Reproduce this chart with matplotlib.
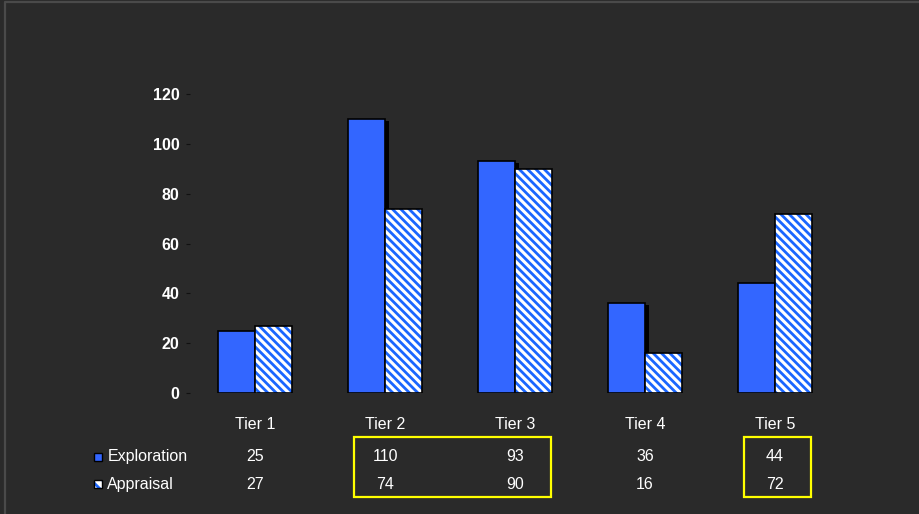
import matplotlib.pyplot as plt
import matplotlib.transforms as mtransforms
from matplotlib.patches import Rectangle
from matplotlib.lines import Line2D
import numpy as np

tiers = ['Tier 1', 'Tier 2', 'Tier 3', 'Tier 4', 'Tier 5']
exploration = [25, 110, 93, 36, 44]
appraisal = [27, 74, 90, 16, 72]
yticks = [0, 20, 40, 60, 80, 100, 120]
# tiers highlighted in the data table (first index, last index)
highlights = [(1, 2), (4, 4)]

bg = '#2a2a2a'
blue = '#3366ff'
hatch_blue = '#1a66ff'

plt.rcParams['font.family'] = ['Liberation Sans', 'DejaVu Sans']
plt.rcParams['hatch.linewidth'] = 2.0
plt.rcParams['hatch.color'] = hatch_blue

fig = plt.figure(figsize=(9.2, 5.14), dpi=100, facecolor=bg)
ax = fig.add_axes([190 / 920, 121 / 514, 650 / 920, 299 / 514])
ax.set_facecolor(bg)

# outer frame (top and left edges only)
fig.lines.append(Line2D([4.5 / 920, 4.5 / 920, 1], [0, 512.5 / 514, 512.5 / 514],
                        transform=fig.transFigure, color='#4a4a4a', linewidth=1.6))

x = np.arange(len(tiers))
w = 0.285
shadow = 4 / 130

# shadow of exploration bars
ax.bar(x - w / 2 + shadow, exploration, w, bottom=-0.8, color='black', linewidth=0, zorder=1)
ax.bar(x - w / 2, exploration, w, color=blue, edgecolor='black', linewidth=1.2, zorder=2)
ax.bar(x + w / 2, appraisal, w, color='white', edgecolor=hatch_blue, hatch='\\\\\\\\',
       linewidth=0, zorder=3)
ax.bar(x + w / 2, appraisal, w, fill=False, edgecolor='black', linewidth=1.2, zorder=4)

ax.set_xlim(-0.5, len(tiers) - 0.5)
ax.set_ylim(0, 120)
ax.set_yticks(yticks)
ax.set_xticks([])
for s in ax.spines.values():
    s.set_visible(False)
ax.tick_params(axis='y', length=3, width=0.8, color='#111111', pad=4.5,
               labelcolor='white', labelsize=11.5)
for lab in ax.get_yticklabels():
    lab.set_fontweight('bold')

# data table under the chart
fs = 11.5
trans = mtransforms.blended_transform_factory(ax.transData, ax.transAxes)
row_y = {'tier': -0.104, 'Exploration': -0.213, 'Appraisal': -0.306}
for i, t in enumerate(tiers):
    ax.text(i, row_y['tier'], t, transform=trans, ha='center', va='center',
            color='white', fontsize=fs, clip_on=False)
    ax.text(i, row_y['Exploration'], str(exploration[i]), transform=trans, ha='center',
            va='center', color='white', fontsize=fs, clip_on=False)
    ax.text(i, row_y['Appraisal'], str(appraisal[i]), transform=trans, ha='center',
            va='center', color='white', fontsize=fs, clip_on=False)

# legend keys
kw = 8 / 130
kh = 8 / 299
ax.add_patch(Rectangle((-1.208 - kw / 2, row_y['Exploration'] - kh / 2), kw, kh, transform=trans,
                       facecolor=blue, edgecolor='black', linewidth=1, clip_on=False))
ax.add_patch(Rectangle((-1.208 - kw / 2, row_y['Appraisal'] - kh / 2), kw, kh, transform=trans,
                       facecolor='white', edgecolor=hatch_blue, hatch='\\\\\\',
                       linewidth=0, clip_on=False))
ax.add_patch(Rectangle((-1.208 - kw / 2, row_y['Appraisal'] - kh / 2), kw, kh, transform=trans,
                       fill=False, edgecolor='black', linewidth=1, clip_on=False))
ax.text(-1.135, row_y['Exploration'], 'Exploration', transform=trans, ha='left', va='center',
        color='white', fontsize=fs, clip_on=False)
ax.text(-1.135, row_y['Appraisal'], 'Appraisal', transform=trans, ha='left', va='center',
        color='white', fontsize=fs, clip_on=False)

# yellow highlight boxes
for a, b in highlights:
    x0 = a - 0.5 + 0.2615
    x1 = b + 0.5 - 0.223
    ax.add_patch(Rectangle((x0, -0.348), x1 - x0, 0.201, transform=trans, fill=False,
                           edgecolor='#ffff00', linewidth=1.6, clip_on=False))

fig.savefig('out.png', dpi=100, facecolor=bg)
